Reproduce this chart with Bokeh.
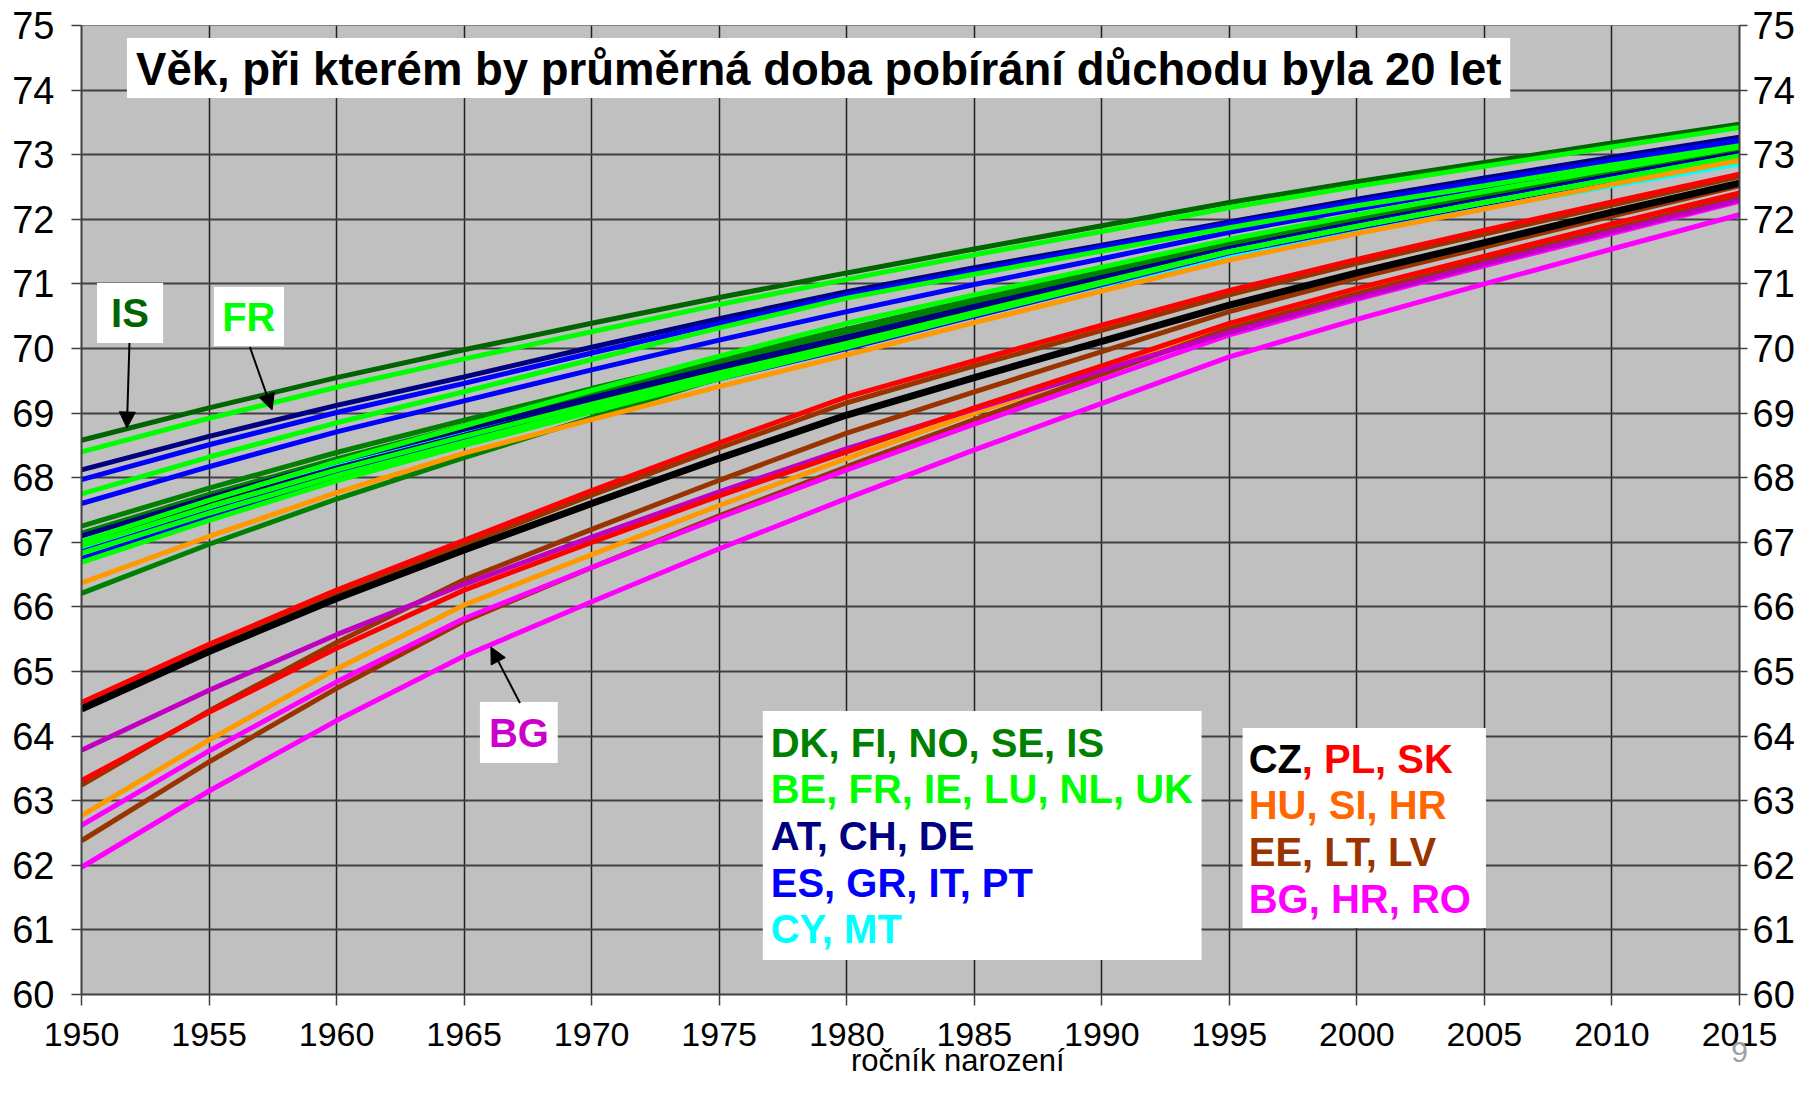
from bokeh.plotting import figure
from bokeh.models import Range1d, LinearAxis, FixedTicker, Label, BoxAnnotation, Arrow, NormalHead
from bokeh.embed import file_html
from bokeh.resources import INLINE

# ---------------- data ----------------
years = [1950, 1955, 1960, 1965, 1970, 1975, 1980, 1985, 1990, 1995, 2000, 2005, 2010, 2015]
x_ticks = [1950, 1955, 1960, 1965, 1970, 1975, 1980, 1985, 1990, 1995, 2000, 2005, 2010, 2015]
y_ticks = [60, 61, 62, 63, 64, 65, 66, 67, 68, 69, 70, 71, 72, 73, 74, 75]

IS = [68.58, 69.08, 69.55, 69.98, 70.39, 70.79, 71.17, 71.54, 71.90, 72.26, 72.58, 72.88, 73.18, 73.47]
SE = [67.25, 67.84, 68.39, 68.89, 69.38, 69.85, 70.30, 70.76, 71.20, 71.64, 72.02, 72.38, 72.73, 73.07]
NO = [67.14, 67.74, 68.29, 68.80, 69.30, 69.79, 70.26, 70.72, 71.16, 71.60, 71.98, 72.34, 72.69, 73.04]
FI = [66.95, 67.56, 68.13, 68.65, 69.16, 69.65, 70.12, 70.60, 71.06, 71.52, 71.92, 72.30, 72.66, 73.02]
DK = [66.21, 66.97, 67.67, 68.31, 68.93, 69.54, 70.12, 70.62, 71.10, 71.58, 71.96, 72.33, 72.68, 73.03]
FR = [68.40, 68.92, 69.40, 69.84, 70.26, 70.68, 71.07, 71.45, 71.81, 72.18, 72.51, 72.82, 73.12, 73.42]
NL = [67.75, 68.32, 68.85, 69.33, 69.83, 70.32, 70.78, 71.15, 71.51, 71.87, 72.21, 72.52, 72.84, 73.14]
UK = [67.01, 67.65, 68.25, 68.80, 69.35, 69.88, 70.39, 70.83, 71.26, 71.69, 72.07, 72.43, 72.78, 73.12]
BE = [66.94, 67.55, 68.12, 68.64, 69.14, 69.62, 70.08, 70.56, 71.03, 71.50, 71.89, 72.26, 72.62, 72.98]
IE = [66.83, 67.45, 68.03, 68.55, 69.07, 69.57, 70.05, 70.54, 71.02, 71.50, 71.89, 72.26, 72.62, 72.97]
LU = [66.69, 67.34, 67.95, 68.50, 69.02, 69.53, 70.02, 70.52, 71.01, 71.50, 71.89, 72.26, 72.62, 72.98]
CH = [68.12, 68.64, 69.12, 69.56, 70.02, 70.46, 70.88, 71.25, 71.60, 71.96, 72.31, 72.64, 72.96, 73.27]
AT = [66.98, 67.59, 68.15, 68.66, 69.18, 69.68, 70.16, 70.63, 71.09, 71.54, 71.93, 72.30, 72.67, 73.02]
DE = [67.10, 67.69, 68.25, 68.75, 69.24, 69.72, 70.18, 70.65, 71.10, 71.55, 71.94, 72.31, 72.67, 73.02]
IT = [67.97, 68.51, 69.01, 69.46, 69.93, 70.39, 70.83, 71.20, 71.57, 71.93, 72.27, 72.59, 72.91, 73.22]
ES = [67.60, 68.17, 68.71, 69.19, 69.67, 70.13, 70.57, 70.99, 71.39, 71.80, 72.16, 72.50, 72.83, 73.16]
GR = [66.85, 67.47, 68.05, 68.58, 69.08, 69.57, 70.03, 70.54, 71.03, 71.52, 71.91, 72.28, 72.64, 72.99]
PT = [66.75, 67.39, 67.99, 68.53, 69.04, 69.53, 70.00, 70.50, 70.99, 71.48, 71.87, 72.24, 72.60, 72.95]
MT = [67.06, 67.66, 68.21, 68.72, 69.20, 69.66, 70.10, 70.57, 71.02, 71.47, 71.85, 72.20, 72.55, 72.89]
CY = [66.89, 67.50, 68.07, 68.58, 69.09, 69.58, 70.05, 70.52, 70.98, 71.44, 71.82, 72.17, 72.52, 72.86]
SI = [66.37, 67.09, 67.77, 68.38, 68.90, 69.41, 69.90, 70.40, 70.89, 71.37, 71.78, 72.16, 72.54, 72.91]
HU = [62.77, 63.94, 65.04, 66.03, 66.81, 67.57, 68.30, 69.00, 69.68, 70.36, 70.89, 71.40, 71.89, 72.37]
CZ = [64.42, 65.31, 66.13, 66.88, 67.60, 68.30, 68.97, 69.55, 70.11, 70.67, 71.17, 71.64, 72.11, 72.56]
SK = [64.52, 65.42, 66.26, 67.03, 67.80, 68.54, 69.25, 69.81, 70.36, 70.90, 71.38, 71.83, 72.27, 72.70]
PL = [63.31, 64.37, 65.36, 66.26, 67.00, 67.72, 68.40, 69.08, 69.73, 70.39, 70.93, 71.43, 71.93, 72.41]
LT = [64.45, 65.36, 66.20, 66.97, 67.73, 68.46, 69.16, 69.73, 70.28, 70.83, 71.32, 71.77, 72.22, 72.66]
EE = [63.24, 64.39, 65.45, 66.42, 67.20, 67.96, 68.69, 69.33, 69.95, 70.57, 71.09, 71.57, 72.05, 72.52]
LV = [62.38, 63.60, 64.74, 65.78, 66.61, 67.41, 68.17, 68.90, 69.60, 70.31, 70.85, 71.36, 71.85, 72.34]
HR = [63.78, 64.71, 65.57, 66.35, 67.08, 67.78, 68.45, 69.06, 69.66, 70.25, 70.79, 71.31, 71.81, 72.30]
RO = [62.62, 63.77, 64.84, 65.82, 66.61, 67.38, 68.12, 68.83, 69.52, 70.21, 70.76, 71.28, 71.78, 72.28]
BG = [61.97, 63.15, 64.24, 65.24, 66.08, 66.90, 67.68, 68.43, 69.15, 69.87, 70.45, 71.00, 71.54, 72.07]

title_text = "Věk, při kterém by průměrná doba pobírání důchodu byla 20 let"
x_label_text = "ročník narození"
slide_number = "9"
legend1 = [("DK, FI, NO, SE, IS", "#008000"), ("BE, FR, IE, LU, NL, UK", "#00ff00"),
           ("AT, CH, DE", "#000080"), ("ES, GR, IT, PT", "#0000ff"), ("CY, MT", "#00ffff")]
legend2 = [("HU, SI, HR", "#ff6600"), ("EE, LT, LV", "#993300"), ("BG, HR, RO", "#ff00ff")]

# ---------------- styles (draw order) ----------------
series = [
    (MT, "#00ffff", 5), (CY, "#00ffff", 5),
    (DK, "#008000", 5), (FI, "#008000", 5), (NO, "#008000", 5), (SE, "#008000", 5), (IS, "#006400", 5),
    (AT, "#000080", 5), (DE, "#000080", 5), (CH, "#000080", 5),
    (PT, "#0000ff", 5), (GR, "#0000ff", 5), (ES, "#0000ff", 5), (IT, "#0000ff", 5),
    (LU, "#00ff00", 5), (IE, "#00ff00", 5), (BE, "#00ff00", 5), (UK, "#00ff00", 5), (NL, "#00ff00", 5), (FR, "#00ff00", 5),
    (SI, "#ff9900", 5), (HU, "#ff9900", 5),
    (LV, "#993300", 5), (EE, "#993300", 5), (LT, "#993300", 5),
    (BG, "#ff00ff", 5), (RO, "#ff00ff", 5), (HR, "#c000c0", 5),
    (PL, "#ff0000", 5), (SK, "#ff0000", 5),
    (CZ, "#000000", 7),
]

FONT = "Liberation Sans"

p = figure(width=1797, height=1082, x_range=Range1d(1950, 2015), y_range=Range1d(60, 75),
           output_backend="svg", toolbar_location=None,
           min_border_left=81, min_border_right=57, min_border_top=25, min_border_bottom=88)
p.background_fill_color = "#c0c0c0"
p.border_fill_color = "white"
p.outline_line_color = "#808080"
p.outline_line_width = 1

p.xgrid.grid_line_color = "#202020"
p.xgrid.grid_line_width = 1.5
p.ygrid.grid_line_color = "#404040"
p.ygrid.grid_line_width = 2
p.xgrid.ticker = FixedTicker(ticks=x_ticks)
p.ygrid.ticker = FixedTicker(ticks=y_ticks)

p.xaxis.ticker = FixedTicker(ticks=x_ticks)
p.yaxis.ticker = FixedTicker(ticks=y_ticks)
right_axis = LinearAxis(ticker=FixedTicker(ticks=y_ticks))
p.add_layout(right_axis, "right")

for ax in [p.xaxis[0], p.yaxis[0], right_axis]:
    ax.major_label_text_font = FONT
    ax.major_label_text_color = "black"
    ax.axis_line_color = "#404040"
    ax.axis_line_width = 2
    ax.major_tick_line_color = "#404040"
    ax.major_tick_line_width = 1.5
    ax.major_tick_in = 0
    ax.minor_tick_line_color = None
p.xaxis.major_label_text_font_size = "34px"
p.yaxis.major_label_text_font_size = "38px"
right_axis.major_label_text_font_size = "38px"
p.xaxis.major_tick_out = 11
p.xaxis.major_label_standoff = 17
p.yaxis.major_tick_out = 10
p.yaxis.major_label_standoff = 17
right_axis.major_tick_out = 8
right_axis.major_label_standoff = 5

# second (text-only) bottom axis: slide number under 2015 and the x-axis title
pad = "\u00a0" * 11
label_axis = LinearAxis(ticker=FixedTicker(ticks=[2015]), major_label_overrides={2015: slide_number},
                        axis_label=pad + x_label_text)
label_axis.axis_line_color = None
label_axis.major_tick_line_color = None
label_axis.minor_tick_line_color = None
label_axis.major_tick_in = 0
label_axis.major_tick_out = 0
label_axis.major_label_standoff = -7
label_axis.major_label_text_font = FONT
label_axis.major_label_text_font_size = "30px"
label_axis.major_label_text_color = "#a0a0a0"
label_axis.axis_label_standoff = -22
label_axis.axis_label_text_font = FONT
label_axis.axis_label_text_font_size = "31px"
label_axis.axis_label_text_font_style = "normal"
label_axis.axis_label_text_color = "black"
p.add_layout(label_axis, "below")

for vals, col, w in series:
    p.line(years, vals, line_color=col, line_width=w)

# title box
p.add_layout(BoxAnnotation(left=1951.78, right=2006.01, top=74.805, bottom=73.876,
                           fill_color="white", fill_alpha=1, line_color=None))
p.add_layout(Label(x=1952.14, y=74.32, text=title_text, text_font=FONT, text_font_size="45.5px",
                   text_font_style="bold", text_color="black", text_baseline="alphabetic"))

# legend box 1
p.add_layout(BoxAnnotation(left=1976.71, right=1993.91, top=64.387, bottom=60.533,
                           fill_color="white", fill_alpha=1, line_color=None))
leg1_y = [63.895, 63.183, 62.455, 61.728, 61.016]
for (txt, col), yy in zip(legend1, leg1_y):
    p.add_layout(Label(x=1977.02, y=yy, text=txt, text_font=FONT, text_font_size="40px",
                       text_font_style="bold", text_color=col, text_baseline="alphabetic"))

# legend box 2
p.add_layout(BoxAnnotation(left=1995.52, right=2005.06, top=64.124, bottom=61.028,
                           fill_color="white", fill_alpha=1, line_color=None))
p.add_layout(Label(x=1995.76, y=63.648, text="CZ", text_font=FONT, text_font_size="40px",
                   text_font_style="bold", text_color="black", text_baseline="alphabetic"))
p.add_layout(Label(x=1995.76, x_offset=53, y=63.648, text=", PL, SK", text_font=FONT, text_font_size="40px",
                   text_font_style="bold", text_color="#ff0000", text_baseline="alphabetic"))
leg2_y = [62.936, 62.208, 61.480]
for (txt, col), yy in zip(legend2, leg2_y):
    p.add_layout(Label(x=1995.76, y=yy, text=txt, text_font=FONT, text_font_size="40px",
                       text_font_style="bold", text_color=col, text_baseline="alphabetic"))

# country callouts
callouts = [
    ("IS", "#006400", (1950.61, 1953.20, 71.013, 70.084), (1951.90, 70.544), (1951.88, 70.085, 1951.78, 68.769)),
    ("FR", "#00ff00", (1955.19, 1957.94, 70.953, 70.040), (1956.56, 70.493), (1956.60, 70.023, 1957.47, 69.048)),
    ("BG", "#cc00cc", (1965.62, 1968.67, 64.527, 63.583), (1967.15, 64.053), (1967.19, 64.511, 1966.05, 65.378)),
]
for txt, col, (l, r, t, b), (tx, ty), (xs, ys, xe, ye) in callouts:
    p.add_layout(BoxAnnotation(left=l, right=r, top=t, bottom=b, fill_color="white", fill_alpha=1, line_color=None))
    p.add_layout(Label(x=tx, y=ty, text=txt, text_font=FONT, text_font_size="40px", text_font_style="bold",
                       text_color=col, text_align="center", text_baseline="alphabetic"))
    p.add_layout(Arrow(end=NormalHead(size=16, fill_color="black", line_color="black"),
                       x_start=xs, y_start=ys, x_end=xe, y_end=ye, line_color="black", line_width=2))

open("out.html", "w").write(file_html(p, INLINE))
